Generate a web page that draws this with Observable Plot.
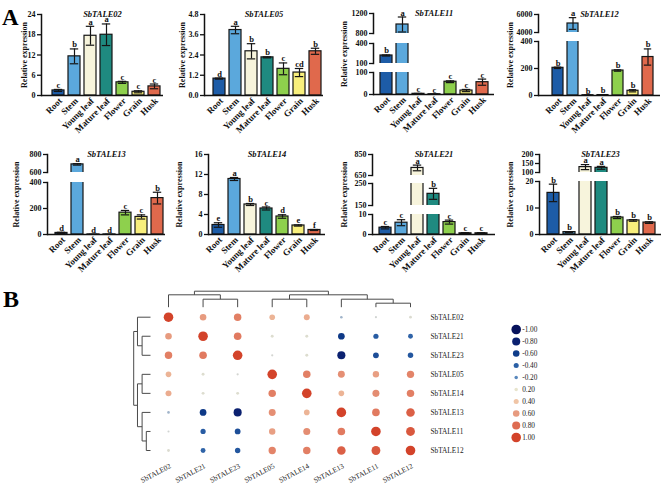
<!DOCTYPE html>
<html><head><meta charset="utf-8">
<script src="https://cdn.jsdelivr.net/npm/d3@7"></script>
<script src="https://cdn.jsdelivr.net/npm/@observablehq/plot@0.6"></script>
<style>
body{margin:0;background:#fff;}
#fig{position:relative;width:669px;height:487px;overflow:hidden;background:#fff;font-family:"Liberation Serif",serif;}
.panel-letter{position:absolute;font-weight:bold;line-height:1;font-family:"Liberation Serif",serif;color:#000;}
</style></head><body><div id="fig">
<div class="panel-letter" style="left:2px;top:5.7px;font-size:23px;">A</div>
<div class="panel-letter" style="left:3px;top:287px;font-size:24px;">B</div>
</div>
<script>
// ---------------- DATA ----------------
const tissues = ["Root","Stem","Young leaf","Mature leaf","Flower","Grain","Husk"];
const tissueColors = ["#1d5ca7","#5ba8dc","#f7f4dc","#1f8a80","#8ed04d","#f8ef7c","#e0694c"];

const mean02 = [1.5, 11.6, 17.7, 18.0, 3.9, 1.1, 2.7];
const err02  = [0.3, 2.2, 2.8, 3.2, 0.3, 0.3, 0.7];
const sig02  = ["c","b","a","a","c","c","c"];
const mean05 = [1.0, 3.88, 2.62, 2.26, 1.58, 1.36, 2.62];
const err05  = [0.03, 0.22, 0.45, 0.03, 0.35, 0.24, 0.18];
const sig05  = ["d","a","b","b","c","cd","b"];
const mean11 = [220, 980, 3, 1, 58, 18, 56];
const err11  = [8, 150, 2, 0.5, 4, 5, 14];
const sig11  = ["b","a","c","c","c","c","c"];
const mean12 = [205, 5000, 2, 3, 185, 35, 285];
const err12  = [5, 650, 1, 1, 5, 8, 60];
const sig12  = ["b","a","b","b","b","b","b"];
const mean13 = [12, 690, 0.5, 0.5, 168, 135, 280];
const err13  = [5, 8, 0.3, 0.3, 17, 16, 45];
const sig13  = ["d","a","d","d","c","c","b"];
const mean14 = [1.9, 11.1, 6.0, 5.2, 3.6, 1.8, 0.9];
const err14  = [0.45, 0.3, 0.2, 0.3, 0.35, 0.12, 0.1];
const sig14  = ["e","a","b","c","d","e","f"];
const mean21 = [3.4, 5.9, 722, 203, 6.2, 0.6, 0.6];
const err21  = [0.6, 1.5, 27, 25, 1.0, 0.3, 0.3];
const sig21  = ["c","c","a","b","c","c","c"];
const mean23 = [15.7, 0.9, 130, 126, 6.4, 5.3, 4.5];
const err23  = [3.3, 0.2, 14, 8, 0.4, 0.3, 0.3];
const sig23  = ["b","b","a","a","b","b","b"];

// axis segments (broken axes): [low, high, tick labels]
const breaks02 = [[0, 24, [0, 6, 12, 18, 24]]];
const breaks05 = [[0, 4.8, [0, 1.2, 2.4, 3.6, 4.8]]];
const breaks11 = [[800, 1200, [800, 1200]], [100, 400, [100, 400]], [0, 100, [0, 100]]];
const breaks12 = [[4000, 6000, [4000, 6000]], [0, 400, [0, 200, 400]]];
const breaks13 = [[600, 800, [600, 800]], [0, 400, [0, 200, 400]]];
const breaks14 = [[0, 16, [0, 4, 8, 12, 16]]];
const breaks21 = [[650, 850, [650, 850]], [150, 250, [150, 250]], [0, 10, [0, 10]]];
const breaks23 = [[100, 200, [100, 150, 200]], [0, 20, [0, 10, 20]]];

// correlation matrix (panel B)
const corrOrder = ["SbTALE02","SbTALE21","SbTALE23","SbTALE05","SbTALE14","SbTALE13","SbTALE11","SbTALE12"];
const corr02 = [1.00, 0.60, 0.72, 0.48, 0.52, -0.08, 0.02, 0.10];
const corr21 = [0.60, 1.00, 0.74, 0.12, 0.12, -0.62, -0.42, -0.38];
const corr23 = [0.72, 0.74, 1.00, 0.03, 0.12, -0.80, -0.50, -0.45];
const corr05 = [0.48, 0.12, 0.03, 1.00, 0.72, 0.65, 0.58, 0.70];
const corr14 = [0.52, 0.12, 0.12, 0.72, 1.00, 0.48, 0.66, 0.72];
const corr13 = [-0.08, -0.62, -0.80, 0.65, 0.48, 1.00, 0.74, 0.86];
const corr11 = [0.02, -0.42, -0.50, 0.58, 0.66, 0.74, 1.00, 0.90];
const corr12 = [0.10, -0.38, -0.45, 0.70, 0.72, 0.86, 0.90, 1.00];
const corrRows = [corr02, corr21, corr23, corr05, corr14, corr13, corr11, corr12];
// hierarchical clustering (leaf = index into corrOrder, h = merge height)
const clusterTree = {h: 4, c: [
  {h: 3.1, c: [0, {h: 2, c: [1, 2]}]},
  {h: 3.1, c: [{h: 2, c: [3, 4]}, {h: 2, c: [5, {h: 1, c: [6, 7]}]}]}
]};
const legendValues = [-1, -0.8, -0.6, -0.4, -0.2, 0.2, 0.4, 0.6, 0.8, 1];
const corrColorStops = [-1, -0.8, -0.6, -0.4, -0.2, 0, 0.2, 0.4, 0.6, 0.8, 1];
const corrColorRange = ["#07125c","#0b2170","#0e3c8a","#2b60a6","#5a88bd","#cfd2d2","#e7e4cd","#f0c5a6","#e79b7f","#de6c52","#d3432a"];

// ---------------- LAYOUT ----------------
const W = 669, H = 487;
const SERIF = "Liberation Serif, serif";
const layout = {
  SbTALE02: {x0: 41,  c0: 57,    c6: 156,   xEnd: 163, labelX: 24,  segs: [[14, 95]]},
  SbTALE05: {x0: 204, c0: 217.7, c6: 316.7, xEnd: 323, labelX: 182, segs: [[14, 95]]},
  SbTALE11: {x0: 373, c0: 385,   c6: 483,   xEnd: 494, labelX: 344, segs: [[13, 33], [43, 63], [72, 94]]},
  SbTALE12: {x0: 538, c0: 555,   c6: 650,   xEnd: 660, labelX: 510, segs: [[14, 32], [41, 95]]},
  SbTALE13: {x0: 47,  c0: 60,    c6: 158,   xEnd: 165, labelX: 16,  segs: [[154, 172], [182, 234]]},
  SbTALE14: {x0: 208, c0: 217,   c6: 316,   xEnd: 325, labelX: 179, segs: [[154, 234]]},
  SbTALE21: {x0: 372, c0: 383,   c6: 483,   xEnd: 495, labelX: 344, segs: [[154, 175], [183, 205], [214, 234]]},
  SbTALE23: {x0: 539, c0: 552,   c6: 650,   xEnd: 661, labelX: 510, segs: [[154, 172], [181, 234]]}
};
const fmtInt = d => String(d);
const fmt1 = d => d.toFixed(1);
const panels = [
  {gene: "SbTALE02", mean: mean02, err: err02, sig: sig02, breaks: breaks02, fmt: fmtInt},
  {gene: "SbTALE05", mean: mean05, err: err05, sig: sig05, breaks: breaks05, fmt: fmt1},
  {gene: "SbTALE11", mean: mean11, err: err11, sig: sig11, breaks: breaks11, fmt: fmtInt},
  {gene: "SbTALE12", mean: mean12, err: err12, sig: sig12, breaks: breaks12, fmt: fmtInt},
  {gene: "SbTALE13", mean: mean13, err: err13, sig: sig13, breaks: breaks13, fmt: fmtInt},
  {gene: "SbTALE14", mean: mean14, err: err14, sig: sig14, breaks: breaks14, fmt: fmtInt},
  {gene: "SbTALE21", mean: mean21, err: err21, sig: sig21, breaks: breaks21, fmt: fmtInt},
  {gene: "SbTALE23", mean: mean23, err: err23, sig: sig23, breaks: breaks23, fmt: fmtInt}
];

const fig = document.getElementById("fig");
function place(svg, extra = {}) {
  Object.assign(svg.style, {position: "absolute", left: "0px", top: "0px", overflow: "visible",
    background: "none", maxWidth: "none", fontFamily: SERIF, fontSize: "8px", fontWeight: "bold", color: "#111"}, extra);
  fig.appendChild(svg);
}
function frame(left, right, top, bottom) {
  return {width: W, height: H, marginLeft: left, marginRight: W - right, marginTop: top, marginBottom: H - bottom};
}

// ---------------- PANEL A: bar charts ----------------
for (const p of panels) {
  const g = layout[p.gene];
  const rows = tissues.map((t, i) => ({tissue: t, mean: p.mean[i], err: p.err[i], sig: p.sig[i]}));
  const step = (g.c6 - g.c0) / 6;
  const n = p.breaks.length;
  p.breaks.forEach(([lo, hi, ticks], k) => {
    const [top, bottom] = g.segs[k];
    const isBottom = k === n - 1;
    const letterRows = rows.filter(d => d.mean + d.err >= lo && (d.mean + d.err < hi || (k === 0 && d.mean + d.err <= hi)));
    const marks = [
      Plot.barY(rows, {x: "tissue", y1: () => 0, y2: "mean", fill: "tissue", stroke: "#151515", strokeWidth: 1.2, clip: true}),
      Plot.ruleX(rows, {x: "tissue", y1: d => d.mean - d.err, y2: d => d.mean + d.err, stroke: "#151515", strokeWidth: 1.2, clip: true}),
      Plot.tickY(rows, {x: "tissue", y: d => d.mean + d.err, stroke: "#151515", strokeWidth: 1.2, insetLeft: 1.8, insetRight: 1.8, clip: true}),
      Plot.tickY(rows, {x: "tissue", y: d => d.mean - d.err, stroke: "#151515", strokeWidth: 1.2, insetLeft: 1.8, insetRight: 1.8, clip: true}),
      Plot.text(letterRows, {x: "tissue", y: d => d.mean + d.err, text: "sig", dy: -1.5, lineAnchor: "bottom", fontWeight: "bold", fontSize: 8.5, fill: "#111"}),
      Plot.axisY({ticks, tickSize: 4, tickPadding: 2, tickFormat: p.fmt, label: null, strokeWidth: 1.3, fontWeight: "bold", fontSize: 8}),
      Plot.frame({anchor: "left", strokeWidth: 1.5})
    ];
    if (isBottom) {
      marks.push(Plot.ruleY([lo], {strokeWidth: 1.5}));
      marks.push(Plot.text(tissues, {x: d => d, frameAnchor: "bottom", dx: 4, dy: 6, rotate: -45, textAnchor: "end", fontWeight: "bold", fontSize: 9}));
    }
    const svg = Plot.plot({
      ...frame(g.x0, g.xEnd, top, bottom),
      x: {type: "band", domain: tissues, range: [g.c0 - step / 2, g.c6 + step / 2], paddingInner: 0.24, paddingOuter: 0.12, axis: null},
      y: {domain: [lo, hi], axis: null},
      color: {type: "ordinal", domain: tissues, range: tissueColors},
      marks
    });
    place(svg);
  });
  // title and y label for the whole panel
  const svgT = Plot.plot({
    ...frame(g.x0, g.xEnd, g.segs[0][0], g.segs[n - 1][1]),
    marks: [
      Plot.text([p.gene], {frameAnchor: "top", dy: -4, fontStyle: "italic", fontWeight: "bold", fontSize: 8.5}),
      Plot.text(["Relative expression"], {frameAnchor: "left", dx: g.labelX - g.x0, rotate: -90, textAnchor: "middle", fontWeight: "bold", fontSize: 8})
    ]
  });
  place(svgT);
}

// ---------------- PANEL B: correlation dot matrix ----------------
const cells = [];
corrRows.forEach((row, i) => row.forEach((v, j) => cells.push({row: i, col: j, v})));
const rScale = {type: "linear", domain: [0, 1], range: [1, 4.8]};
const cScale = {type: "linear", domain: corrColorStops, range: corrColorRange};
const M = {left: 168, right: 410, top: 316.7, bottom: 450};

const svgM = Plot.plot({
  ...frame(M.left, M.right, M.top, M.bottom),
  x: {domain: [0, corrOrder.length - 1], axis: null},
  y: {domain: [0, corrOrder.length - 1], reverse: true, axis: null},
  r: rScale, color: cScale,
  marks: [
    Plot.dot(cells, {x: "col", y: "row", r: d => Math.abs(d.v), fill: "v"}),
    Plot.axisY({anchor: "right", ticks: d3.range(corrOrder.length), tickFormat: i => corrOrder[i], tickSize: 0, tickPadding: 20, fontSize: 7.3, fontWeight: "normal", label: null, fill: "#222"}),
    Plot.text(corrOrder, {x: (d, i) => i, frameAnchor: "bottom", dx: 3, dy: 17, rotate: -28, textAnchor: "end", fontSize: 7.3, fontWeight: "normal", fill: "#222"})
  ]
});
place(svgM, {fontWeight: "normal"});

// dendrograms
function walk(node, segs) {
  if (typeof node === "number") return {pos: node, h: 0};
  const kids = node.c.map(k => walk(k, segs));
  for (const k of kids) segs.push({p1: k.pos, h1: k.h, p2: k.pos, h2: node.h});
  segs.push({p1: kids[0].pos, h1: node.h, p2: kids[kids.length - 1].pos, h2: node.h});
  return {pos: d3.mean(kids, k => k.pos), h: node.h};
}
const dendroSegs = [];
walk(clusterTree, dendroSegs);
const maxH = clusterTree.h;

const svgTop = Plot.plot({
  ...frame(M.left, M.right, 290.7, 306.7),
  x: {domain: [0, corrOrder.length - 1], axis: null},
  y: {domain: [0, maxH], axis: null},
  marks: [Plot.link(dendroSegs, {x1: "p1", y1: "h1", x2: "p2", y2: "h2", stroke: "#4a4a4a", strokeWidth: 1})]
});
place(svgTop);
const svgLeft = Plot.plot({
  ...frame(133.2, 150, M.top, M.bottom),
  x: {domain: [0, maxH], reverse: true, axis: null},
  y: {domain: [0, corrOrder.length - 1], reverse: true, axis: null},
  marks: [Plot.link(dendroSegs, {x1: "h1", y1: "p1", x2: "h2", y2: "p2", stroke: "#4a4a4a", strokeWidth: 1})]
});
place(svgLeft);

// size/color legend
const svgL = Plot.plot({
  ...frame(515.7, 560, 327.3, 439.3),
  x: {domain: [0, 1], axis: null},
  y: {type: "point", domain: legendValues, padding: 0, axis: null},
  r: rScale, color: cScale,
  marks: [
    Plot.dot(legendValues, {frameAnchor: "left", y: d => d, r: d => Math.abs(d), fill: d => d}),
    Plot.text(legendValues, {frameAnchor: "left", y: d => d, dx: 6, text: d => d.toFixed(2), textAnchor: "start", fontSize: 7.3, fontWeight: "normal", fill: "#222"})
  ]
});
place(svgL, {fontWeight: "normal"});
</script></body></html>
